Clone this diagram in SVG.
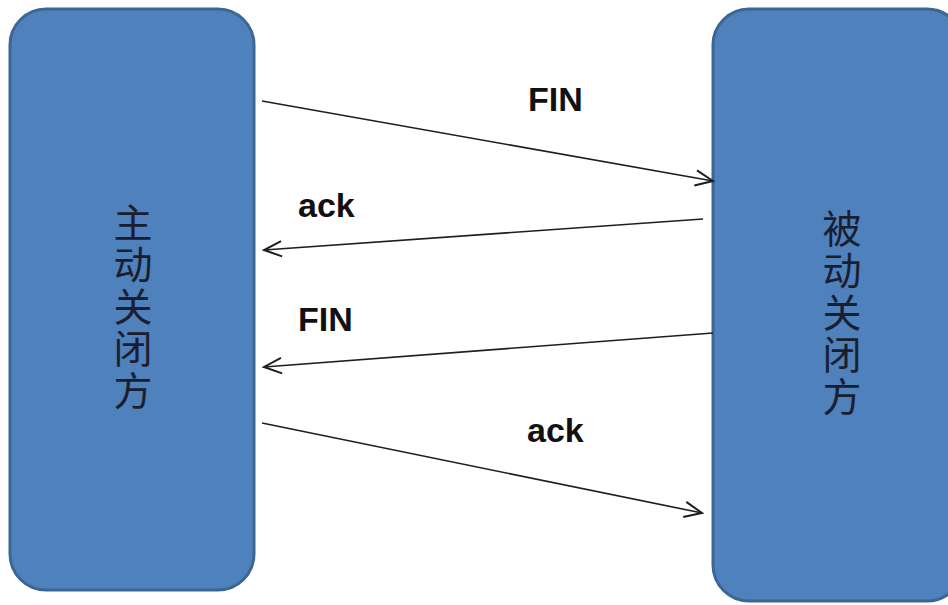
<svg xmlns="http://www.w3.org/2000/svg" width="948" height="605" viewBox="0 0 948 605">
<defs>
<style>
.box{fill:#4f81bd;stroke:#3c6696;stroke-width:3}
.cjk{font-family:"Noto Sans CJK SC","Noto Sans",sans-serif;font-size:39px;fill:#1a1e2e;text-anchor:middle;font-weight:normal}
.lbl{font-family:"Liberation Sans",Arial,sans-serif;font-size:34px;font-weight:bold;fill:#111}
.conn{stroke:#1e1e1e;stroke-width:1.6;fill:none;marker-end:url(#arr)}
</style>
<marker id="arr" markerUnits="userSpaceOnUse" markerWidth="22" markerHeight="22" viewBox="-18 -9 20 18" refX="0" refY="0" orient="auto">
<path d="M-16,-7 L0,0 L-16,7" fill="none" stroke="#1e1e1e" stroke-width="1.8"/>
</marker>
</defs>
<rect width="948" height="605" fill="#ffffff"/>
<g id="active">
<rect class="box" x="10" y="9" width="244" height="581" rx="36" ry="36"/>
<text class="cjk" x="133" y="237">主</text>
<text class="cjk" x="133" y="279">动</text>
<text class="cjk" x="133" y="321">关</text>
<text class="cjk" x="133" y="363">闭</text>
<text class="cjk" x="133" y="405">方</text>
</g>
<g id="passive">
<rect class="box" x="713" y="9" width="250" height="592" rx="36" ry="36"/>
<text class="cjk" x="842" y="243">被</text>
<text class="cjk" x="842" y="285">动</text>
<text class="cjk" x="842" y="327">关</text>
<text class="cjk" x="842" y="369">闭</text>
<text class="cjk" x="842" y="411">方</text>
</g>
<g id="connectors">
<line class="conn" x1="262" y1="101" x2="713" y2="181"/>
<line class="conn" x1="703" y1="219" x2="264" y2="250"/>
<line class="conn" x1="713" y1="333" x2="264" y2="367"/>
<line class="conn" x1="262" y1="423" x2="702" y2="513"/>
</g>
<g id="labels">
<text class="lbl" x="528" y="111">FIN</text>
<text class="lbl" x="298" y="217">ack</text>
<text class="lbl" x="298" y="331">FIN</text>
<text class="lbl" x="527" y="442">ack</text>
</g>
</svg>
